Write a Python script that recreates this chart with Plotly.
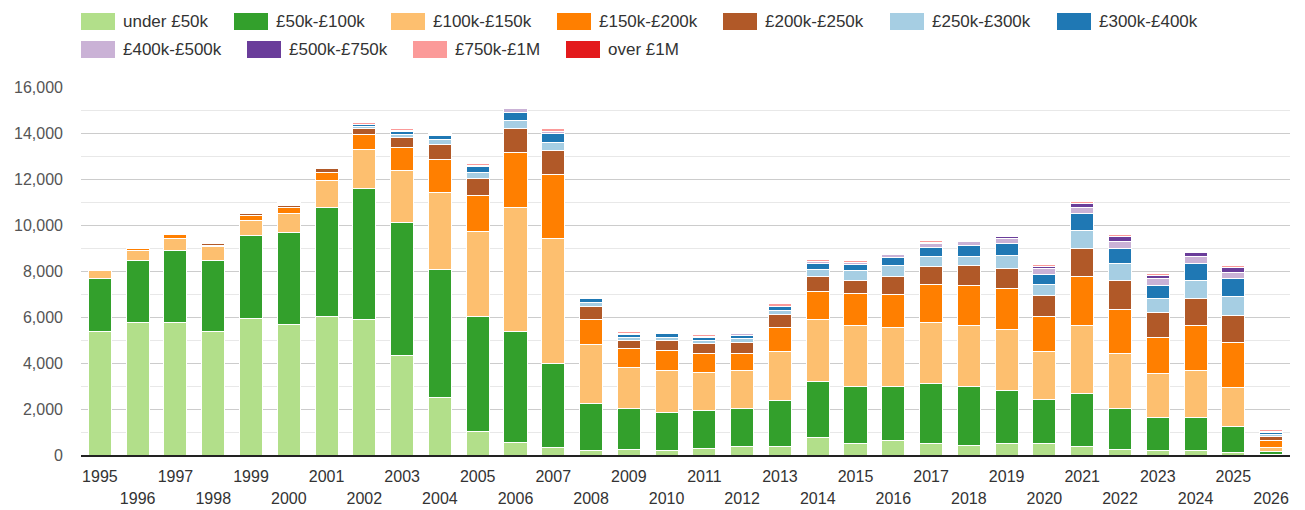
import plotly.graph_objects as go

years = list(range(1995, 2027))

under_50k = [5390, 5770, 5780, 5390, 5940, 5680, 6010, 5910, 4340, 2480, 1040, 565, 305, 175, 260, 215,
             290, 350, 390, 740, 520, 610, 480, 435, 480, 480, 350, 260, 215, 175, 130, 20]
k50_100 = [2290, 2695, 3130, 3070, 3620, 4000, 4750, 5695, 5775, 5595, 4985, 4825, 3680, 2070, 1770, 1650,
           1650, 1680, 2000, 2435, 2480, 2375, 2610, 2565, 2345, 1915, 2305, 1780, 1435, 1435, 1130, 130]
k100_150 = [348, 435, 520, 610, 640, 840, 1190, 1695, 2260, 3345, 3695, 5390, 5435, 2565, 1795, 1810,
            1650, 1650, 2115, 2695, 2650, 2580, 2680, 2610, 2650, 2085, 2955, 2390, 1915, 2085, 1695, 175]
k150_200 = [58, 58, 145, 58, 230, 245, 335, 640, 1010, 1435, 1565, 2390, 2755, 1085, 825, 870,
            840, 755, 1060, 1260, 1390, 1435, 1625, 1740, 1780, 1535, 2130, 1915, 1565, 1915, 1915, 305]
k200_250 = [20, 20, 30, 58, 87, 100, 160, 245, 425, 650, 740, 1030, 1070, 565, 335, 435,
            435, 465, 550, 640, 565, 740, 780, 870, 870, 900, 1260, 1260, 1045, 1175, 1215, 175]
k250_300 = [10, 10, 10, 10, 10, 43, 20, 100, 145, 230, 260, 350, 350, 175, 145, 145,
            115, 175, 160, 305, 405, 480, 435, 420, 565, 520, 740, 740, 625, 785, 825, 85]
k300_400 = [8, 10, 5, 5, 10, 20, 20, 72, 116, 160, 245, 350, 390, 175, 115, 160,
            130, 100, 190, 260, 275, 350, 420, 480, 520, 420, 740, 640, 580, 740, 785, 72]
k400_500 = [0, 0, 0, 0, 0, 0, 0, 30, 55, 43, 72, 145, 87, 43, 43, 43,
            58, 87, 0, 72, 100, 130, 175, 160, 190, 260, 260, 305, 275, 305, 260, 58]
k500_750 = [0, 0, 0, 0, 0, 0, 0, 0, 0, 0, 0, 0, 0, 0, 0, 0,
            0, 0, 0, 0, 0, 0, 43, 43, 100, 100, 205, 215, 145, 205, 215, 0]
k750_1m = [5, 5, 10, 10, 10, 10, 20, 58, 58, 29, 72, 30, 116, 20, 72, 20,
           58, 58, 116, 87, 58, 20, 72, 58, 58, 58, 72, 72, 87, 43, 58, 72]
over_1m = [15, 20, 20, 20, 20, 20, 27, 10, 15, 43, 10, 15, 10, 58, 10, 43,
           5, 5, 5, 5, 15, 58, 10, 15, 10, 10, 10, 10, 10, 10, 10, 5]

series = [
    ("under £50k", under_50k, "#b2df8a"),
    ("£50k-£100k", k50_100, "#33a02c"),
    ("£100k-£150k", k100_150, "#fdbf6f"),
    ("£150k-£200k", k150_200, "#ff7f00"),
    ("£200k-£250k", k200_250, "#b15928"),
    ("£250k-£300k", k250_300, "#a6cee3"),
    ("£300k-£400k", k300_400, "#1f78b4"),
    ("£400k-£500k", k400_500, "#cab2d6"),
    ("£500k-£750k", k500_750, "#6a3d9a"),
    ("£750k-£1M", k750_1m, "#fb9a99"),
    ("over £1M", over_1m, "#e31a1c"),
]

W, H = 1305, 510
L, R, T, B = 81, 15, 87, 55
pw, ph = W - L - R, H - T - B

fig = go.Figure()
for name, vals, color in series:
    fig.add_trace(go.Bar(x=years, y=vals, name=name, showlegend=False,
                         marker=dict(color=color, line=dict(color="white", width=1))))

# invisible trace so the second (even years) label row gets drawn
fig.add_trace(go.Scatter(x=years[1::2], y=[0] * len(years[1::2]), xaxis="x2", mode="markers",
                         marker=dict(opacity=0), showlegend=False, hoverinfo="skip"))

# hand-made legend: big swatches like the original, two rows
legend_rows = [[81, 234, 391, 557, 723, 890, 1057], [81, 247, 413, 566]]
row_mid = [21.5, 49.5]
shapes, annotations = [], []
i = 0
for r, row in enumerate(legend_rows):
    for px in row:
        name, _, color = series[i]
        y0 = (ph - (row_mid[r] + 8.5 - T)) / ph
        y1 = (ph - (row_mid[r] - 8.5 - T)) / ph
        shapes.append(dict(type="rect", xref="paper", yref="paper",
                           x0=(px - L) / pw, x1=(px + 34 - L) / pw, y0=y0, y1=y1,
                           fillcolor=color, line=dict(width=0)))
        annotations.append(dict(text=name, xref="paper", yref="paper",
                                x=(px + 40 - L) / pw, y=(ph - (row_mid[r] - T)) / ph,
                                xanchor="left", yanchor="middle", showarrow=False,
                                font=dict(size=17, color="#333")))
        i += 1

font = "Liberation Sans, Arial, sans-serif"
fig.update_layout(
    width=W, height=H,
    barmode="stack", bargap=0.39,
    plot_bgcolor="white", paper_bgcolor="white",
    margin=dict(l=L, r=R, t=T, b=B, autoexpand=False),
    font=dict(family=font, size=16, color="#333"),
    showlegend=False,
    shapes=shapes, annotations=annotations,
    xaxis=dict(range=[1994.5, 2026.5], tickvals=years[0::2], ticktext=[str(y) for y in years[0::2]],
               showgrid=False, showline=True, linecolor="#222", linewidth=2, ticks="",
               ticklabelstandoff=6, automargin=False, tickfont=dict(size=16, color="#333")),
    xaxis2=dict(overlaying="x", matches="x", side="bottom", range=[1994.5, 2026.5],
                tickvals=years[1::2], ticktext=[str(y) for y in years[1::2]],
                showgrid=False, showline=False, ticks="", ticklabelstandoff=32, automargin=False,
                tickfont=dict(size=16, color="#333")),
    yaxis=dict(range=[0, 16000], dtick=2000, tickformat=",", gridcolor="#cccccc", gridwidth=1,
               zeroline=False, ticks="", ticklabelstandoff=17, automargin=False,
               tickfont=dict(size=16, color="#555"),
               minor=dict(dtick=1000, showgrid=True, gridcolor="#e8e8e8")),
)

# page body has a default 8px margin; drop it so the chart sits at the window's corner
fig.write_html("out.html", config={"displayModeBar": False},
               post_script="document.body.style.margin='0';")
